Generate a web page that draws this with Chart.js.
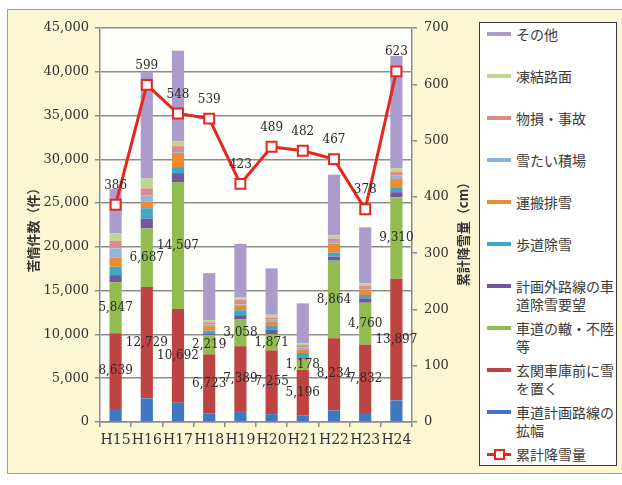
<!DOCTYPE html>
<html lang="ja">
<head>
<meta charset="UTF-8">
<title>苦情件数と累計降雪量</title>
<style>
    html, body { margin: 0; padding: 0; overflow: hidden; background: #ffffff; }
    .frame {
        position: absolute; left: 7px; top: 9px; width: 640px; height: 463px;
        border: 1px solid #a09f95; background: #fbf7d4;
    }
    .chart-box { position: absolute; left: 0; top: 0; width: 476px; height: 485px; }
    #legend {
        position: absolute; left: 479px; top: 22px; width: 136px; height: 442px;
        border: 1.5px solid #3a3a3a; background: #ffffff;
        font-family: "Noto Sans CJK JP", sans-serif; font-size: 14px; color: #3a3a3a;
    }
    .item { position: relative; height: 42px; box-sizing: border-box; padding-top: 2px; }
    .swatch { position: absolute; left: 7px; top: 9px; width: 24px; height: 4px; }
    .swatch.line { height: 3px; top: 9.5px; }
    .swatch.line i {
        position: absolute; left: 7px; top: -4px; width: 7px; height: 7px;
        border: 2px solid #e5281f; background: #fff; box-sizing: content-box;
    }
    .txt { position: absolute; left: 36px; top: 2px; width: 100px; line-height: 18px; }
</style>
</head>
<body>
<div class="frame"></div>
<div class="chart-box"><canvas id="snowChart"></canvas></div>
<div id="legend"></div>

<script src="https://cdn.jsdelivr.net/npm/chart.js"></script>
<script>
// categories (fiscal years)
const years = ['H15', 'H16', 'H17', 'H18', 'H19', 'H20', 'H21', 'H22', 'H23', 'H24'];

// complaint counts by type (stacked, bottom to top)
const widening   = [1490, 2700, 2200, 1000, 1250, 900, 760, 1330, 1030, 2470];        // 車道計画路線の拡幅
const entrance   = [8639, 12729, 10692, 6723, 7389, 7255, 5196, 8234, 7832, 13897];  // 玄関車庫前に雪を置く
const ruts       = [5847, 6687, 14507, 2219, 3058, 1871, 1178, 8864, 4760, 9310];    // 車道の轍・不陸等
const offRoute   = [800, 1100, 1030, 200, 500, 500, 150, 460, 500, 570];             // 計画外路線の車道除雪要望
const sidewalk   = [950, 1200, 690, 300, 570, 450, 600, 460, 380, 570];              // 歩道除雪
const hauling    = [1070, 760, 1600, 500, 570, 500, 350, 1030, 530, 950];            // 運搬排雪
const snowYard   = [1030, 700, 100, 200, 100, 200, 300, 200, 130, 400];              // 雪たい積場
const damage     = [880, 800, 690, 250, 500, 270, 250, 380, 380, 380];               // 物損・事故
const icy        = [840, 1140, 530, 250, 300, 300, 200, 380, 300, 450];              // 凍結路面
const others     = [5050, 12180, 10360, 5360, 6110, 5300, 4570, 6910, 6390, 12800];  // その他

// cumulative snowfall (cm)
const snowfall = [386, 599, 548, 539, 423, 489, 482, 467, 378, 623];

const leftTicks = { min: 0, max: 45000, step: 5000 };
const rightTicks = { min: 0, max: 700, step: 100 };

const textColor = '#333333';
Chart.defaults.font.family = '"DejaVu Serif", serif';
Chart.defaults.color = textColor;

function bar(label, data, color, showValues) {
    return { type: 'bar', label: label, data: data, backgroundColor: color,
             borderWidth: 0, order: 1, yAxisID: 'y', showValues: !!showValues,
             barPercentage: 0.39, categoryPercentage: 1 };
}

const datasets = [
    bar('車道計画路線の拡幅', widening, '#3f78c0'),
    bar('玄関車庫前に雪を置く', entrance, '#be4441', true),
    bar('車道の轍・不陸等', ruts, '#92bb50', true),
    bar('計画外路線の車道除雪要望', offRoute, '#7356a0'),
    bar('歩道除雪', sidewalk, '#3fa8c4'),
    bar('運搬排雪', hauling, '#ee8a2f'),
    bar('雪たい積場', snowYard, '#94b2e0'),
    bar('物損・事故', damage, '#da8d8f'),
    bar('凍結路面', icy, '#bcd88f'),
    bar('その他', others, '#ab9ccb'),
    {
        type: 'line', label: '累計降雪量', data: snowfall, yAxisID: 'y1', order: 0,
        borderColor: '#e5281f', borderWidth: 3, tension: 0, showValues: true,
        pointStyle: 'rect', pointRadius: 7, pointBorderWidth: 2,
        pointBackgroundColor: '#ffffff', pointBorderColor: '#e5281f'
    }
];

// white plot area, value labels and axis titles
const decorations = {
    id: 'decorations',
    beforeDraw(chart) {
        const a = chart.chartArea, ctx = chart.ctx;
        ctx.save();
        ctx.fillStyle = '#fefefb';
        ctx.fillRect(a.left, a.top, a.right - a.left, a.bottom - a.top);
        ctx.restore();
    },
    afterDatasetsDraw(chart) {
        const ctx = chart.ctx;
        ctx.save();
        ctx.font = '12px "DejaVu Serif"';
        ctx.fillStyle = '#2a2a2a';
        ctx.textAlign = 'center';
        ctx.textBaseline = 'middle';
        chart.data.datasets.forEach((ds, i) => {
            if (!ds.showValues) return;
            chart.getDatasetMeta(i).data.forEach((el, j) => {
                const txt = ds.data[j].toLocaleString('en-US');
                if (ds.type === 'line') ctx.fillText(txt, el.x, el.y - 19);
                else ctx.fillText(txt, el.x, (el.y + el.base) / 2);
            });
        });
        ctx.restore();
    },
    afterDraw(chart) {
        const ctx = chart.ctx;
        ctx.save();
        ctx.font = 'bold 13px "Noto Sans CJK JP"';
        ctx.fillStyle = textColor;
        ctx.textAlign = 'center';
        ctx.textBaseline = 'middle';
        ctx.translate(33, 227);
        ctx.rotate(-Math.PI / 2);
        ctx.fillText('苦情件数（件）', 0, 0);
        ctx.restore();

        ctx.save();
        ctx.font = 'bold 13px "Noto Sans CJK JP"';
        ctx.fillStyle = textColor;
        ctx.textAlign = 'center';
        ctx.textBaseline = 'middle';
        ctx.translate(463, 231);
        ctx.rotate(-Math.PI / 2);
        ctx.fillText('累計降雪量（cm）', 0, 0);
        ctx.restore();
    }
};

const chart = new Chart(document.getElementById('snowChart'), {
    data: { labels: years, datasets: datasets },
    options: {
        responsive: true,
        maintainAspectRatio: false,
        animation: false,
        layout: { padding: { top: 28, left: 0, right: 0, bottom: 0 } },
        plugins: { legend: { display: false }, tooltip: { enabled: false } },
        scales: {
            x: {
                stacked: true,
                afterFit: s => { s.height = 63; },
                grid: { display: true, drawOnChartArea: false, drawTicks: true, tickLength: 5, color: '#8c8c8c', lineWidth: 1.5 },
                border: { color: '#8c8c8c', width: 1.5 },
                ticks: { font: { size: 14 }, padding: 5, color: textColor,
                         maxRotation: 0, minRotation: 0, autoSkip: false }
            },
            y: {
                stacked: true,
                position: 'left',
                min: leftTicks.min, max: leftTicks.max,
                afterFit: s => { s.width = 100; },
                grid: { color: '#8c8c8c', lineWidth: 1.5, tickLength: 5 },
                border: { color: '#8c8c8c', width: 1.5 },
                ticks: { stepSize: leftTicks.step, font: { size: 13 }, padding: 6, color: textColor,
                         callback: v => v.toLocaleString('en-US') }
            },
            y1: {
                position: 'right',
                min: rightTicks.min, max: rightTicks.max,
                afterFit: s => { s.width = 64; },
                grid: { drawOnChartArea: false, color: '#8c8c8c', lineWidth: 1.5, tickLength: 5 },
                border: { color: '#8c8c8c', width: 1.5 },
                ticks: { stepSize: rightTicks.step, font: { size: 13 }, padding: 7, color: textColor }
            }
        }
    },
    plugins: [decorations]
});

// legend: bar types top to bottom, then the snowfall line
const legend = document.getElementById('legend');
const legendOrder = chart.data.datasets.filter(d => d.type === 'bar').reverse()
    .concat(chart.data.datasets.filter(d => d.type === 'line'));
legendOrder.forEach(ds => {
    const item = document.createElement('div');
    item.className = 'item';
    const sw = document.createElement('span');
    if (ds.type === 'line') {
        sw.className = 'swatch line';
        sw.style.background = ds.borderColor;
        sw.appendChild(document.createElement('i'));
    } else {
        sw.className = 'swatch';
        sw.style.background = ds.backgroundColor;
    }
    const t = document.createElement('span');
    t.className = 'txt';
    t.textContent = ds.label;
    item.appendChild(sw);
    item.appendChild(t);
    legend.appendChild(item);
});
</script>
</body>
</html>
